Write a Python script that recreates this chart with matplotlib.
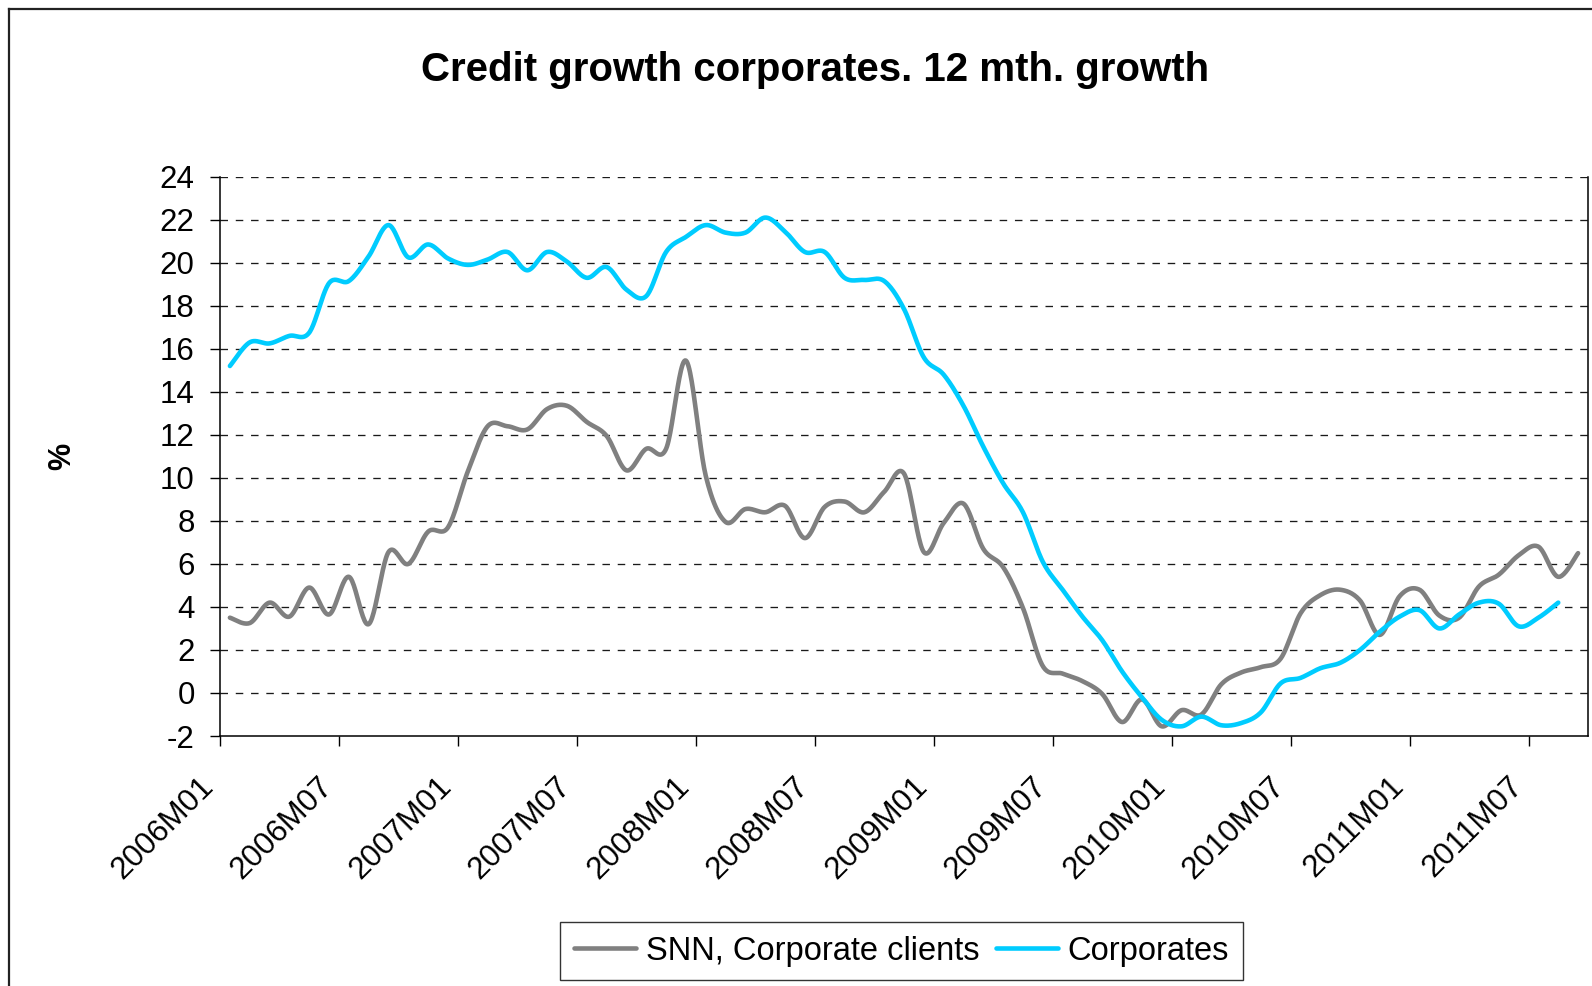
import numpy as np
import matplotlib
matplotlib.use("Agg")
import matplotlib.pyplot as plt
from matplotlib.lines import Line2D
import matplotlib.transforms as mtransforms

plt.rcParams['font.family'] = ['Liberation Sans', 'DejaVu Sans']
plt.rcParams['lines.scale_dashes'] = False

# ---- data (monthly, 2006M01 onwards) ----
snn_values = [3.5, 3.25, 4.2, 3.55, 4.9, 3.65, 5.4, 3.2, 6.55, 6.0, 7.5, 7.7,
              10.3, 12.4, 12.4, 12.25, 13.2, 13.35, 12.6, 11.95, 10.35, 11.35, 11.35, 15.45,
              10.1, 7.95, 8.55, 8.4, 8.7, 7.2, 8.65, 8.9, 8.4, 9.35, 10.2, 6.55,
              7.9, 8.8, 6.7, 5.85, 3.95, 1.25, 0.9, 0.55, -0.05, -1.35, -0.3, -1.55,
              -0.8, -1.0, 0.4, 0.95, 1.2, 1.6, 3.7, 4.55, 4.8, 4.3, 2.7, 4.5,
              4.8, 3.6, 3.5, 4.95, 5.5, 6.4, 6.8, 5.4, 6.5]
corp_values = [15.2, 16.3, 16.25, 16.6, 16.75, 19.05, 19.15, 20.3, 21.75, 20.25, 20.85, 20.2,
               19.9, 20.15, 20.5, 19.65, 20.5, 20.05, 19.3, 19.8, 18.75, 18.45, 20.5, 21.2,
               21.75, 21.4, 21.4, 22.1, 21.45, 20.5, 20.5, 19.3, 19.2, 19.15, 17.85, 15.6,
               14.8, 13.35, 11.45, 9.75, 8.4, 6.1, 4.8, 3.55, 2.45, 1.0, -0.2, -1.25,
               -1.55, -1.1, -1.5, -1.4, -0.9, 0.45, 0.7, 1.15, 1.4, 2.0, 2.85, 3.55,
               3.85, 3.0, 3.65, 4.2, 4.15, 3.1, 3.5, 4.2]
tick_labels = ["2006M01", "2006M07", "2007M01", "2007M07", "2008M01", "2008M07",
               "2009M01", "2009M07", "2010M01", "2010M07", "2011M01", "2011M07"]
n_months = len(snn_values)

title = "Credit growth corporates. 12 mth. growth"
snn_label = "SNN, Corporate clients"
corp_label = "Corporates"


def smooth(y, n=24):
    """Excel-style smoothed line (Catmull-Rom Bezier) through the monthly points."""
    x = np.arange(len(y), dtype=float)
    pts = np.column_stack([x, np.asarray(y, dtype=float)])
    P = np.vstack([pts[0], pts, pts[-1]])
    t = np.linspace(0, 1, n, endpoint=False)[:, None]
    out = []
    for i in range(len(pts) - 1):
        p0, p1, p2, p3 = P[i], P[i + 1], P[i + 2], P[i + 3]
        c1 = p1 + (p2 - p0) / 6
        c2 = p2 - (p3 - p1) / 6
        seg = (1 - t) ** 3 * p1 + 3 * (1 - t) ** 2 * t * c1 + 3 * (1 - t) * t ** 2 * c2 + t ** 3 * p2
        out.append(seg)
    out.append(pts[-1:])
    s = np.vstack(out)
    return s[:, 0], s[:, 1]


W, H = 1592, 986
fig = plt.figure(figsize=(W / 100, H / 100), dpi=100)
ax = fig.add_axes([220 / W, 1 - 736 / H, (1588 - 220) / W, (736 - 176.7) / H])

sx, sy = smooth(snn_values)
cx, cy = smooth(corp_values)
ax.plot(sx, sy, color='#808080', lw=3.3, solid_capstyle='round', label=snn_label, zorder=3)
ax.plot(cx, cy, color='#00CCFF', lw=3.3, solid_capstyle='round', label=corp_label, zorder=4)

ax.set_xlim(-0.5, n_months - 0.5)
ax.set_ylim(-2, 24)
ax.set_yticks(np.arange(-2, 25, 2))
ax.set_yticklabels([str(v) for v in range(-2, 25, 2)], fontsize=22.5)

xt = np.arange(len(tick_labels)) * 6 - 0.5
ax.set_xticks(xt)
ax.set_xticklabels(tick_labels, fontsize=22.5, rotation=45, ha='right', va='top')
offset = mtransforms.ScaledTranslation(-2 / 100, 0, fig.dpi_scale_trans)
for lab in ax.get_xticklabels():
    lab.set_transform(lab.get_transform() + offset)

ax.tick_params(axis='y', direction='out', length=7.2, width=1, pad=11, colors='black')
ax.tick_params(axis='x', direction='out', length=7.2, width=1, pad=18, colors='black')

for yv in range(0, 25, 2):
    ax.axhline(yv, color='#1a1a1a', lw=0.95, linestyle=(0, (5.4, 5.6)), zorder=1)

ax.spines['top'].set_visible(False)
for s in ['left', 'bottom', 'right']:
    ax.spines[s].set_color('black')
    ax.spines[s].set_linewidth(1.1)

ax.set_ylabel('%', fontsize=22, fontweight='bold')
ax.yaxis.set_label_coords((77 - 220) / (1588 - 220), 0.5)

fig.text(815 / W, 1 - 81 / H, title, fontsize=29, fontweight='bold', ha='center', va='baseline')

leg = fig.legend(loc='upper center', bbox_to_anchor=(901.5 / W, 1 - 922 / H), ncol=2,
                 fontsize=23.5, frameon=True, fancybox=False, shadow=False,
                 handlelength=1.9, handletextpad=0.3, columnspacing=0.5,
                 borderpad=0.42, borderaxespad=0)
leg.get_frame().set_edgecolor('black')
leg.get_frame().set_linewidth(1.0)

# chart-area border (left and top visible)
fig.add_artist(Line2D([8.5 / W, 8.5 / W], [0, 1 - 8.5 / H], transform=fig.transFigure, color='#222222', lw=1.6))
fig.add_artist(Line2D([8.5 / W, 1], [1 - 8.5 / H, 1 - 8.5 / H], transform=fig.transFigure, color='#222222', lw=1.6))

fig.savefig('out.png', dpi=100)
